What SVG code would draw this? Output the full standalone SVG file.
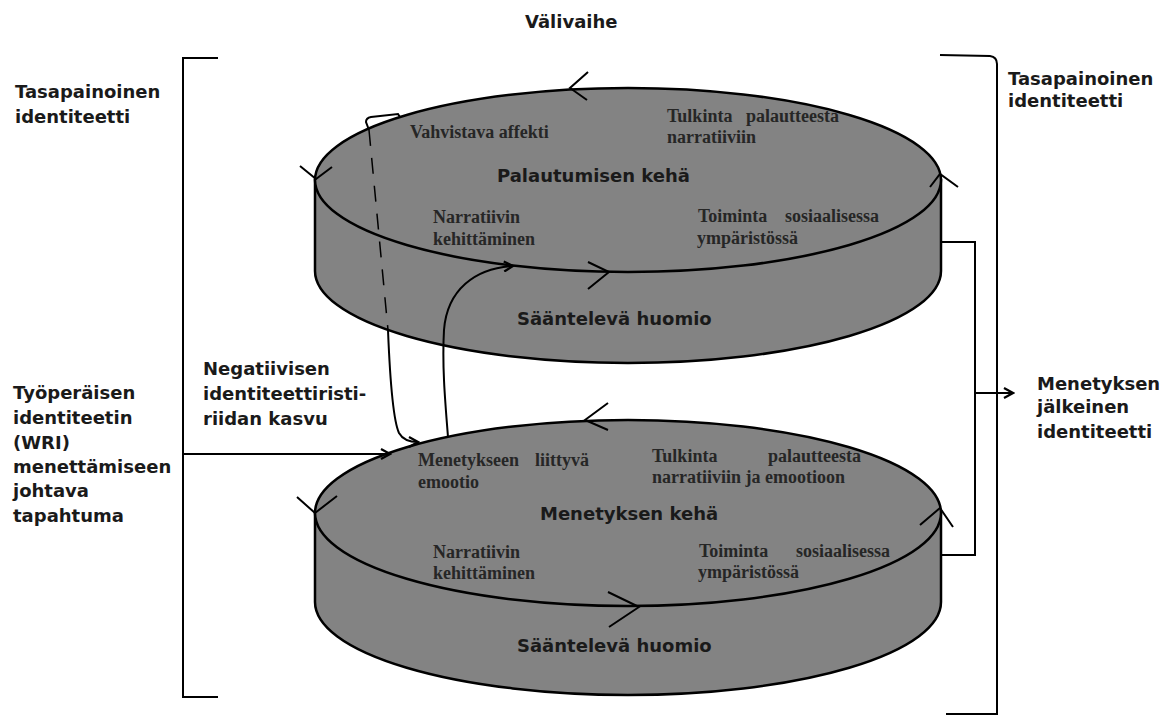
<svg xmlns="http://www.w3.org/2000/svg" width="1164" height="720" viewBox="0 0 1164 720">
<style>
.sans{font-family:"DejaVu Sans","Liberation Sans",sans-serif;font-weight:bold;font-size:18px;fill:#1a1a1a}
.ser{font-family:"Liberation Serif","Times New Roman",serif;font-weight:bold;font-size:18px;fill:#262626}
.cyl{fill:#838383;stroke:#000;stroke-width:2.5}
.ln{fill:none;stroke:#000;stroke-width:2}
.chev{fill:none;stroke:#000;stroke-width:2}
</style>
<defs>
<marker id="ah" viewBox="0 0 12 12" refX="10" refY="6" markerWidth="12" markerHeight="12" markerUnits="userSpaceOnUse" orient="auto">
<path d="M1,1 L10,6 L1,11" fill="none" stroke="#000" stroke-width="2.2"/>
</marker>
</defs>
<rect width="1164" height="720" fill="#fff"/>

<g id="brackets">
<path class="ln" d="M218,58 L183,58 L183,697 L218,697"/>
<path class="ln" d="M940,55 L990,56 Q997,57 997,64 L997,714 L946,714"/>
</g>

<g id="cylinder-top">
<path class="cyl" d="M315,180 L315,271 A313,92 0 0 0 941,271 L941,180 Z"/>
<ellipse class="cyl" cx="628" cy="180" rx="313" ry="92"/>
<path class="chev" d="M588,72 L570,88 L587,100"/>
<path class="chev" d="M300,166 L316,179 L332,167"/>
<path class="chev" d="M588,262 L609,272 L588,289"/>
<path class="chev" d="M930,187 L940,174 L958,187"/>
<text class="ser" x="410" y="138">Vahvistava affekti</text>
<text class="ser" x="667" y="122">Tulkinta</text>
<text class="ser" x="746" y="122">palautteesta</text>
<text class="ser" x="667" y="143">narratiiviin</text>
<text class="sans" x="497" y="182">Palautumisen kehä</text>
<text class="ser" x="433" y="223">Narratiivin</text>
<text class="ser" x="433" y="245">kehittäminen</text>
<text class="ser" x="698" y="222">Toiminta</text>
<text class="ser" x="785" y="222">sosiaalisessa</text>
<text class="ser" x="697" y="244">ympäristössä</text>
<text class="sans" x="517" y="325">Sääntelevä huomio</text>
</g>

<g id="cylinder-bottom">
<path class="cyl" d="M315,513 L315,602 A313,93 0 0 0 941,602 L941,513 Z"/>
<ellipse class="cyl" cx="628" cy="513" rx="313" ry="93"/>
<path class="chev" d="M608,403 L585,420 L608,430"/>
<path class="chev" d="M297,497 L315,513 L337,496"/>
<path class="chev" d="M608,592 L639,607 L609,627"/>
<path class="chev" d="M920,525 L940,508 L953,527"/>
<text class="ser" x="418" y="466">Menetykseen</text>
<text class="ser" x="535" y="466">liittyvä</text>
<text class="ser" x="418" y="488">emootio</text>
<text class="ser" x="652" y="462">Tulkinta</text>
<text class="ser" x="768" y="462">palautteesta</text>
<text class="ser" x="652" y="483">narratiiviin ja emootioon</text>
<text class="sans" x="540" y="520">Menetyksen kehä</text>
<text class="ser" x="433" y="558">Narratiivin</text>
<text class="ser" x="433" y="579">kehittäminen</text>
<text class="ser" x="699" y="557">Toiminta</text>
<text class="ser" x="796" y="557">sosiaalisessa</text>
<text class="ser" x="698" y="578">ympäristössä</text>
<text class="sans" x="517" y="652">Sääntelevä huomio</text>
</g>

<g id="connectors">
<path class="ln" d="M183,454 L390,454" marker-end="url(#ah)"/>
<path d="M369,130 L388,330" fill="none" stroke="#000" stroke-width="1.5" stroke-dasharray="16 12"/>
<path class="ln" d="M369,130 L366,122 Q366,118 371,117 L398,114 L400,117"/>
<path class="ln" d="M388,330 C390,380 393,420 399,433 Q404,442 418,442" marker-end="url(#ah)"/>
<path class="ln" d="M448,437 C445,400 442,365 444,330 C447,290 475,268 513,266" marker-end="url(#ah)"/>
<path class="ln" d="M941,242 L975,242 L975,555 L941,555"/>
<path class="ln" d="M975,393 L1013,393" marker-end="url(#ah)"/>
</g>

<g id="labels">
<text class="sans" x="525" y="28">Välivaihe</text>
<text class="sans" x="15" y="98">Tasapainoinen</text>
<text class="sans" x="15" y="123">identiteetti</text>
<text class="sans" x="1008" y="85">Tasapainoinen</text>
<text class="sans" x="1008" y="107">identiteetti</text>
<text class="sans" x="13" y="399">Työperäisen</text>
<text class="sans" x="13" y="424">identiteetin</text>
<text class="sans" x="13" y="449">(WRI)</text>
<text class="sans" x="13" y="473">menettämiseen</text>
<text class="sans" x="13" y="497">johtava</text>
<text class="sans" x="13" y="522">tapahtuma</text>
<text class="sans" x="203" y="375">Negatiivisen</text>
<text class="sans" x="203" y="400">identiteettiristi-</text>
<text class="sans" x="203" y="425">riidan kasvu</text>
<text class="sans" x="1037" y="390">Menetyksen</text>
<text class="sans" x="1037" y="413">jälkeinen</text>
<text class="sans" x="1037" y="438">identiteetti</text>
</g>
</svg>
